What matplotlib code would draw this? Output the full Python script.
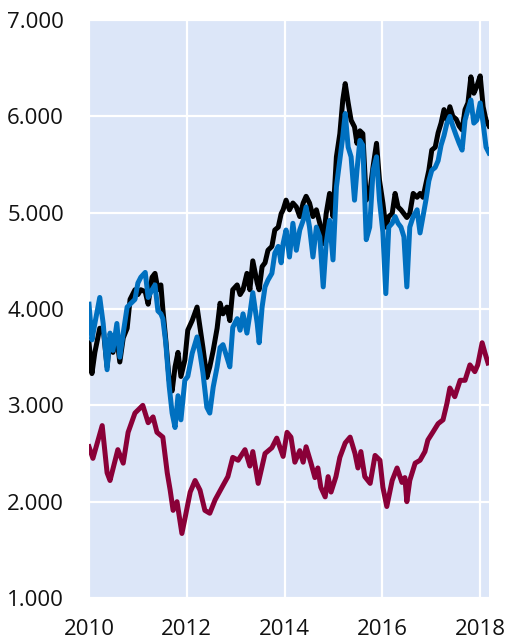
import matplotlib
import matplotlib.pyplot as plt
from matplotlib.ticker import FuncFormatter

matplotlib.use('Agg')

# decimal years, shared by the black and blue series
years_top = [
    2010.00, 2010.06, 2010.12, 2010.22, 2010.29, 2010.37, 2010.43, 2010.49, 2010.57, 2010.63,
    2010.70, 2010.78, 2010.84, 2010.94, 2011.00, 2011.06, 2011.15, 2011.21, 2011.29, 2011.35,
    2011.41, 2011.47, 2011.51, 2011.57, 2011.64, 2011.70, 2011.76, 2011.82, 2011.88, 2011.96,
    2012.02, 2012.11, 2012.21, 2012.27, 2012.33, 2012.41, 2012.47, 2012.54, 2012.62, 2012.68,
    2012.74, 2012.82, 2012.88, 2012.94, 2013.03, 2013.09, 2013.15, 2013.23, 2013.29, 2013.35,
    2013.44, 2013.48, 2013.54, 2013.60, 2013.66, 2013.74, 2013.80, 2013.87, 2013.93, 2013.97,
    2014.03, 2014.10, 2014.17, 2014.24, 2014.31, 2014.38, 2014.44, 2014.51, 2014.58, 2014.65,
    2014.72, 2014.79, 2014.85, 2014.92, 2014.99, 2015.06, 2015.13, 2015.19, 2015.24, 2015.30,
    2015.36, 2015.43, 2015.48, 2015.54, 2015.60, 2015.67, 2015.74, 2015.81, 2015.88, 2015.94,
    2016.01, 2016.07, 2016.13, 2016.20, 2016.26, 2016.32, 2016.38, 2016.44, 2016.50, 2016.56,
    2016.63, 2016.71, 2016.77, 2016.83, 2016.89, 2016.95, 2017.01, 2017.08, 2017.14, 2017.20,
    2017.26, 2017.32, 2017.38, 2017.44, 2017.51, 2017.57, 2017.63, 2017.69, 2017.75, 2017.81,
    2017.87, 2017.93, 2018.00, 2018.06, 2018.12, 2018.18,
]
black_series = [
    3.65, 3.33, 3.55, 3.80, 3.80, 3.40, 3.70, 3.55, 3.70, 3.45,
    3.70, 3.80, 4.10, 4.20, 4.15, 4.20, 4.18, 4.05, 4.33, 4.37,
    4.20, 4.25, 4.00, 3.68, 3.26, 3.15, 3.40, 3.55, 3.30, 3.47,
    3.78, 3.88, 4.02, 3.81, 3.60, 3.29, 3.40, 3.57, 3.80, 4.06,
    3.95, 4.02, 3.88, 4.20, 4.25, 4.15, 4.20, 4.37, 4.20, 4.50,
    4.27, 4.20, 4.44, 4.48, 4.61, 4.65, 4.82, 4.85, 4.99, 5.03,
    5.13, 5.03, 5.10, 5.06, 4.96, 5.10, 5.17, 5.10, 4.96, 5.03,
    4.89, 4.68, 4.99, 5.20, 4.96, 5.58, 5.82, 6.17, 6.34, 6.14,
    5.96, 5.89, 5.72, 5.85, 5.82, 5.13, 5.20, 5.48, 5.72, 5.34,
    5.10, 4.85, 4.96, 4.99, 5.20, 5.06, 5.03, 4.99, 4.95, 4.99,
    5.20, 5.16, 5.20, 5.16, 5.30, 5.44, 5.65, 5.68, 5.83, 5.93,
    6.07, 5.96, 6.10, 6.00, 5.97, 5.90, 5.86, 6.07, 6.14, 6.41,
    6.24, 6.31, 6.42, 6.10, 5.96, 5.90,
]
blue_series = [
    4.05, 3.68, 3.85, 4.12, 3.85, 3.37, 3.75, 3.57, 3.85, 3.50,
    3.75, 4.02, 4.05, 4.10, 4.27, 4.33, 4.38, 4.12, 4.20, 4.25,
    3.98, 3.95, 3.90, 3.65, 3.20, 2.92, 2.77, 3.10, 2.85, 3.26,
    3.30, 3.54, 3.71, 3.54, 3.34, 2.98, 2.92, 3.19, 3.40, 3.60,
    3.63, 3.50, 3.40, 3.81, 3.90, 3.78, 3.95, 3.75, 3.95, 4.17,
    3.85, 3.65, 4.02, 4.23, 4.30, 4.37, 4.58, 4.65, 4.48, 4.68,
    4.82, 4.54, 4.89, 4.61, 4.82, 4.92, 5.06, 4.85, 4.54, 4.85,
    4.75, 4.23, 4.68, 4.92, 4.51, 5.27, 5.55, 5.79, 6.03, 5.68,
    5.58, 5.13, 5.44, 5.75, 5.70, 4.72, 4.85, 5.44, 5.58, 5.13,
    4.80, 4.16, 4.85, 4.89, 4.96, 4.89, 4.85, 4.75, 4.23, 4.85,
    4.96, 5.03, 4.79, 4.96, 5.13, 5.33, 5.44, 5.47, 5.54, 5.70,
    5.80, 5.93, 6.00, 5.90, 5.80, 5.72, 5.65, 5.96, 6.07, 6.17,
    5.93, 5.96, 6.14, 5.93, 5.68, 5.62,
]

years_low = [
    2010.00, 2010.08, 2010.27, 2010.37, 2010.43, 2010.59, 2010.70, 2010.80, 2010.94, 2011.10,
    2011.21, 2011.31, 2011.39, 2011.51, 2011.60, 2011.66, 2011.72, 2011.80, 2011.90, 2011.96,
    2012.07, 2012.17, 2012.27, 2012.37, 2012.47, 2012.58, 2012.72, 2012.84, 2012.94, 2013.05,
    2013.19, 2013.29, 2013.35, 2013.46, 2013.60, 2013.74, 2013.84, 2013.97, 2014.05, 2014.13,
    2014.21, 2014.31, 2014.38, 2014.44, 2014.54, 2014.62, 2014.68, 2014.74, 2014.83, 2014.89,
    2014.95, 2015.05, 2015.13, 2015.24, 2015.34, 2015.44, 2015.50, 2015.56, 2015.64, 2015.75,
    2015.85, 2015.95, 2016.01, 2016.09, 2016.20, 2016.30, 2016.40, 2016.46, 2016.50, 2016.56,
    2016.67, 2016.77, 2016.87, 2016.93, 2017.03, 2017.14, 2017.24, 2017.32, 2017.38, 2017.48,
    2017.59, 2017.69, 2017.79, 2017.89, 2017.95, 2018.04, 2018.10, 2018.16,
]
maroon_series = [
    2.57, 2.45, 2.79, 2.30, 2.22, 2.54, 2.40, 2.72, 2.92, 3.00,
    2.82, 2.88, 2.72, 2.67, 2.30, 2.12, 1.91, 2.00, 1.67, 1.82,
    2.10, 2.22, 2.12, 1.91, 1.88, 2.02, 2.15, 2.26, 2.46, 2.43,
    2.54, 2.37, 2.52, 2.19, 2.50, 2.56, 2.66, 2.47, 2.72, 2.67,
    2.41, 2.53, 2.41, 2.57, 2.40, 2.25, 2.35, 2.15, 2.05, 2.26,
    2.10, 2.26, 2.46, 2.61, 2.67, 2.50, 2.35, 2.52, 2.26, 2.19,
    2.48, 2.43, 2.15, 1.95, 2.22, 2.35, 2.20, 2.25, 2.00, 2.22,
    2.40, 2.43, 2.52, 2.64, 2.72, 2.81, 2.85, 3.02, 3.18, 3.09,
    3.26, 3.26, 3.42, 3.35, 3.42, 3.65, 3.54, 3.44,
]

year_ticks = [2010, 2012, 2014, 2016, 2018]
value_ticks = [1, 2, 3, 4, 5, 6, 7]

plt.rcParams['font.family'] = ['Open Sans', 'DejaVu Sans']

fig = plt.figure(figsize=(5.1, 6.4), dpi=100)
ax = fig.add_axes([0.1745, 0.0656, 0.7843, 0.9031])
ax.set_facecolor('#dce6f8')

ax.plot(years_top, black_series, color='black', linewidth=3.6, solid_joinstyle='round')
ax.plot(years_top, blue_series, color='#0070c0', linewidth=3.6, solid_joinstyle='round')
ax.plot(years_low, maroon_series, color='#8a0038', linewidth=3.6, solid_joinstyle='round')

ax.set_xlim(2010, 2018.18)
ax.set_ylim(1, 7)
ax.set_xticks(year_ticks)
ax.set_yticks(value_ticks)
ax.xaxis.set_major_formatter(FuncFormatter(lambda v, p: f'{int(round(v))}'))
ax.yaxis.set_major_formatter(FuncFormatter(lambda v, p: f'{v:.3f}'))
ax.grid(True, color='white', linewidth=1.6)
ax.set_axisbelow(True)
for s in ax.spines.values():
    s.set_visible(False)
ax.tick_params(length=0, labelsize=16, colors='#111111')
ax.tick_params(axis='y', pad=18)
ax.tick_params(axis='x', pad=15)

plt.savefig('out.png', dpi=100)
plt.close()
